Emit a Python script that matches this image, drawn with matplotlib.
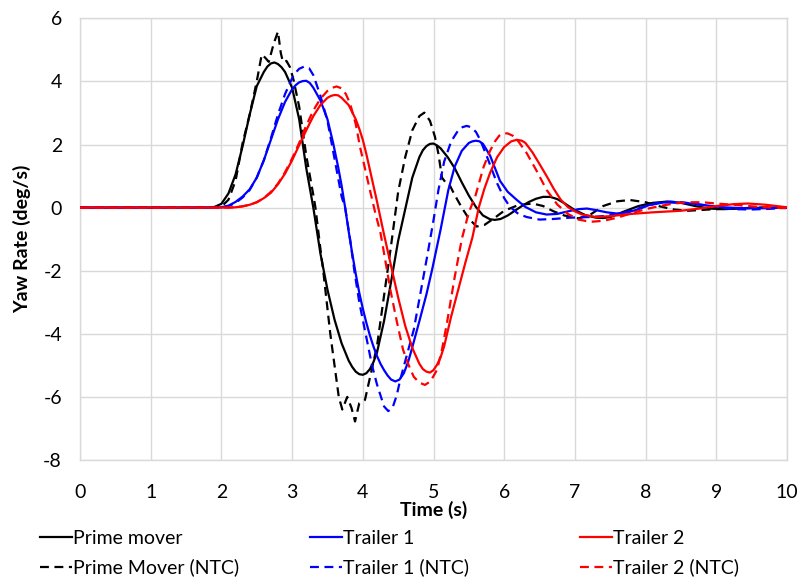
import matplotlib
matplotlib.use("Agg")
import matplotlib.pyplot as plt

plt.rcParams['font.family'] = ['Lato', 'DejaVu Sans']

# Yaw rate responses (time in s, yaw rate in deg/s)
pm_t = [0, 1.8, 1.9, 2.0, 2.1, 2.2, 2.3, 2.4, 2.5, 2.6, 2.65, 2.7, 2.75, 2.8, 2.85, 2.9, 3.0, 3.1,
        3.2, 3.3, 3.4, 3.5, 3.6, 3.7, 3.8, 3.85, 3.9, 3.95, 4.0, 4.05, 4.1, 4.15, 4.2, 4.3, 4.4,
        4.5, 4.6, 4.7, 4.8, 4.85, 4.9, 4.95, 5.0, 5.05, 5.1, 5.2, 5.3, 5.4, 5.5, 5.6, 5.7, 5.8,
        5.87, 5.95, 6.05, 6.15, 6.25, 6.35, 6.45, 6.55, 6.65, 6.75, 6.85, 7.0, 7.15, 7.3, 7.4,
        7.5, 7.7, 7.9, 8.1, 8.3, 8.5, 8.7, 8.9, 9.1, 9.4, 9.7, 10]
pm_y = [0, 0, 0.02, 0.12, 0.45, 1.05, 1.95, 2.95, 3.85, 4.3, 4.47, 4.57, 4.6, 4.55, 4.45, 4.3,
        3.8, 2.8, 1.25, 0.0, -1.45, -2.6, -3.55, -4.3, -4.85, -5.05, -5.2, -5.28, -5.3, -5.25,
        -5.12, -4.9, -4.6, -3.6, -2.35, -1.05, -0.05, 0.95, 1.6, 1.82, 1.95, 2.02, 2.03, 1.97,
        1.88, 1.6, 1.25, 0.8, 0.38, 0.02, -0.25, -0.37, -0.39, -0.36, -0.25, -0.1, 0.05, 0.18,
        0.28, 0.34, 0.34, 0.27, 0.14, -0.08, -0.24, -0.32, -0.33, -0.3, -0.12, 0.05, 0.15, 0.19,
        0.15, 0.05, -0.03, -0.05, -0.02, 0.0, 0.0]

pm_ntc_t = [0, 1.9, 2.0, 2.1, 2.2, 2.3, 2.4, 2.5, 2.57, 2.62, 2.67, 2.74, 2.8, 2.84, 2.87, 2.92,
            2.97, 3.02, 3.1, 3.2, 3.3, 3.33, 3.4, 3.44, 3.5, 3.54, 3.6, 3.66, 3.71, 3.78, 3.84,
            3.89, 3.95, 4.03, 4.1, 4.2, 4.3, 4.4, 4.5, 4.6, 4.7, 4.8, 4.87, 4.95, 5.02, 5.07,
            5.12, 5.17, 5.22, 5.3, 5.4, 5.5, 5.61, 5.72, 5.85, 6.0, 6.2, 6.4, 6.55, 6.7, 6.85,
            7.05, 7.2, 7.4, 7.6, 7.78, 8.0, 8.2, 8.4, 8.6, 8.9, 9.2, 9.6, 10]
pm_ntc_y = [0, 0, 0.03, 0.25, 0.85, 2.05, 2.95, 4.0, 4.85, 4.75, 4.62, 5.2, 5.58, 4.9, 4.62, 4.65,
            4.45, 4.05, 3.2, 1.65, 0.4, 0.0, -1.3, -2.0, -3.2, -4.0, -5.0, -6.0, -6.4, -6.0, -6.35,
            -6.78, -6.2, -6.1, -5.4, -4.4, -2.8, -1.2, 0.5, 1.6, 2.45, 2.9, 3.01, 2.75, 2.25, 1.7,
            0.95, 0.8, 0.75, 0.4, 0.0, -0.35, -0.6, -0.55, -0.35, -0.1, 0.08, 0.13, 0.05, -0.12,
            -0.25, -0.34, -0.25, 0.05, 0.2, 0.24, 0.17, 0.04, -0.06, -0.1, -0.06, -0.03, 0.0, 0.0]

t1_t = [0, 1.9, 2.0, 2.1, 2.2, 2.3, 2.4, 2.5, 2.6, 2.7, 2.8, 2.9, 3.0, 3.05, 3.1, 3.15, 3.2, 3.25,
        3.3, 3.4, 3.5, 3.58, 3.65, 3.7, 3.75, 3.8, 3.85, 3.9, 3.95, 4.0, 4.05, 4.1, 4.15, 4.2,
        4.25, 4.3, 4.35, 4.4, 4.46, 4.52, 4.58, 4.64, 4.69, 4.8, 4.9, 4.98, 5.1, 5.21, 5.3, 5.4,
        5.5, 5.55, 5.6, 5.65, 5.7, 5.8, 5.94, 6.05, 6.18, 6.3, 6.45, 6.6, 6.75, 6.9, 7.05, 7.17,
        7.3, 7.45, 7.6, 7.75, 7.9, 8.05, 8.25, 8.45, 8.7, 8.9, 9.1, 9.4, 9.7, 10]
t1_y = [0, 0, 0.01, 0.06, 0.18, 0.35, 0.58, 0.95, 1.5, 2.15, 2.8, 3.35, 3.75, 3.88, 3.97, 4.01,
        4.02, 3.95, 3.8, 3.4, 2.8, 2.05, 1.3, 0.7, 0.0, -0.75, -1.45, -2.1, -2.7, -3.2, -3.65,
        -4.05, -4.4, -4.7, -4.95, -5.15, -5.32, -5.45, -5.51, -5.45, -5.25, -4.9, -4.51, -3.6,
        -2.75, -1.97, -0.7, 0.56, 1.3, 1.8, 2.05, 2.1, 2.12, 2.1, 2.02, 1.65, 0.85, 0.5, 0.24,
        0.02, -0.15, -0.22, -0.2, -0.12, -0.05, -0.03, -0.08, -0.15, -0.19, -0.15, -0.05, 0.08,
        0.16, 0.16, 0.12, 0.06, 0.01, -0.02, -0.02, 0.0]

t1_ntc_t = [0, 1.9, 2.0, 2.1, 2.2, 2.3, 2.4, 2.5, 2.6, 2.7, 2.8, 2.9, 3.0, 3.05, 3.1, 3.17, 3.24,
            3.3, 3.4, 3.5, 3.6, 3.7, 3.75, 3.82, 3.88, 3.95, 4.04, 4.13, 4.2, 4.25, 4.3, 4.36,
            4.42, 4.48, 4.53, 4.62, 4.72, 4.8, 4.91, 5.0, 5.07, 5.15, 5.25, 5.35, 5.41, 5.47,
            5.53, 5.6, 5.66, 5.75, 5.9, 6.0, 6.08, 6.2, 6.32, 6.5, 6.7, 6.93, 7.2, 7.4, 7.6, 7.8,
            8.0, 8.2, 8.35, 8.55, 8.77, 9.0, 9.25, 9.5, 9.75, 10]
t1_ntc_y = [0, 0, 0.01, 0.05, 0.15, 0.32, 0.56, 0.95, 1.5, 2.2, 2.95, 3.6, 4.1, 4.28, 4.4, 4.47,
            4.42, 4.2, 3.55, 2.75, 1.55, 0.35, 0.0, -1.0, -2.0, -3.0, -4.0, -5.0, -5.6, -5.95,
            -6.3, -6.45, -6.35, -5.95, -5.45, -4.7, -3.88, -2.9, -1.55, -0.4, 0.56, 1.45, 2.1,
            2.45, 2.55, 2.59, 2.55, 2.4, 2.15, 1.65, 0.77, 0.3, 0.03, -0.2, -0.3, -0.38, -0.36,
            -0.32, -0.3, -0.27, -0.2, -0.1, 0.05, 0.16, 0.19, 0.16, 0.09, 0.02, -0.05, -0.06,
            -0.04, 0.0]

t2_t = [0, 2.1, 2.2, 2.3, 2.4, 2.5, 2.6, 2.7, 2.8, 2.9, 3.0, 3.1, 3.2, 3.3, 3.4, 3.5, 3.55, 3.6,
        3.65, 3.7, 3.8, 3.9, 3.95, 4.0, 4.05, 4.1, 4.15, 4.2, 4.3, 4.4, 4.5, 4.6, 4.7, 4.8, 4.85,
        4.9, 4.95, 5.0, 5.05, 5.1, 5.15, 5.25, 5.35, 5.45, 5.55, 5.64, 5.72, 5.8, 5.9, 6.0, 6.1,
        6.18, 6.25, 6.3, 6.4, 6.5, 6.6, 6.7, 6.8, 6.9, 7.0, 7.1, 7.3, 7.5, 7.8, 8.1, 8.5, 8.8,
        9.0, 9.25, 9.45, 9.7, 10]
t2_y = [0, 0, 0.01, 0.04, 0.09, 0.17, 0.3, 0.47, 0.74, 1.08, 1.5, 1.98, 2.45, 2.9, 3.25, 3.48,
        3.54, 3.57, 3.56, 3.48, 3.25, 2.8, 2.5, 2.15, 1.7, 1.2, 0.7, 0.2, -0.85, -1.85, -2.85,
        -3.75, -4.45, -4.95, -5.12, -5.2, -5.23, -5.15, -4.98, -4.75, -4.4, -3.45, -2.6, -1.75,
        -0.95, 0.0, 0.6, 1.1, 1.6, 1.92, 2.1, 2.15, 2.12, 2.05, 1.75, 1.38, 1.0, 0.6, 0.25, 0.02,
        -0.12, -0.22, -0.3, -0.27, -0.2, -0.15, -0.1, -0.02, 0.05, 0.11, 0.13, 0.09, 0.01]

t2_ntc_t = [0, 2.1, 2.2, 2.3, 2.4, 2.5, 2.6, 2.7, 2.8, 2.9, 3.0, 3.1, 3.2, 3.3, 3.4, 3.5, 3.57,
            3.63, 3.7, 3.76, 3.82, 3.9, 3.96, 4.03, 4.1, 4.18, 4.25, 4.32, 4.39, 4.48, 4.57, 4.65,
            4.72, 4.8, 4.88, 4.96, 5.05, 5.12, 5.19, 5.3, 5.4, 5.5, 5.59, 5.71, 5.8, 5.87, 5.93,
            5.99, 6.05, 6.12, 6.2, 6.32, 6.45, 6.6, 6.75, 6.9, 7.05, 7.22, 7.4, 7.6, 7.8, 8.0, 8.2,
            8.4, 8.6, 8.8, 9.0, 9.3, 9.6, 10]
t2_ntc_y = [0, 0, 0.01, 0.04, 0.09, 0.17, 0.3, 0.5, 0.76, 1.12, 1.56, 2.05, 2.6, 3.08, 3.45, 3.7,
            3.8, 3.84, 3.78, 3.6, 3.3, 2.65, 1.93, 1.25, 0.56, -0.2, -0.8, -1.7, -2.61, -3.6, -4.51,
            -5.0, -5.36, -5.55, -5.62, -5.5, -5.14, -4.5, -3.66, -2.2, -1.0, -0.15, 0.35, 1.3, 1.8,
            2.1, 2.28, 2.36, 2.35, 2.28, 2.1, 1.72, 1.2, 0.56, 0.1, -0.2, -0.38, -0.45, -0.42,
            -0.32, -0.18, -0.05, 0.05, 0.13, 0.17, 0.17, 0.13, 0.08, 0.02, -0.02]

x_ticks = [0, 1, 2, 3, 4, 5, 6, 7, 8, 9, 10]
y_ticks = [-8, -6, -4, -2, 0, 2, 4, 6]

series = [
    ("Prime mover", pm_t, pm_y, "#000000", "-"),
    ("Prime Mover (NTC)", pm_ntc_t, pm_ntc_y, "#000000", "--"),
    ("Trailer 1", t1_t, t1_y, "#0000FF", "-"),
    ("Trailer 1 (NTC)", t1_ntc_t, t1_ntc_y, "#0000FF", "--"),
    ("Trailer 2", t2_t, t2_y, "#FF0000", "-"),
    ("Trailer 2 (NTC)", t2_ntc_t, t2_ntc_y, "#FF0000", "--"),
]

fig = plt.figure(figsize=(8.01, 5.85), dpi=100)
ax = fig.add_axes([0.0999, 0.2137, 0.8826, 0.755])

lw = 1.6
handles = []
for label, t, y, color, ls in series:
    line, = ax.plot(t, y, color=color, lw=lw, solid_joinstyle='round',
                    dash_joinstyle='round', label=label, zorder=3)
    if ls == "--":
        line.set_dashes([4, 2.5])
    handles.append(line)

ax.set_xlim(0, 10)
ax.set_ylim(-8, 6)
ax.set_xticks(x_ticks)
ax.set_yticks(y_ticks)
ax.set_xticklabels([str(v) for v in x_ticks])
ax.set_yticklabels([str(v) for v in y_ticks])
ax.tick_params(axis='both', length=0, labelsize=14, colors='#000000')
ax.tick_params(axis='x', pad=17)
ax.tick_params(axis='y', pad=13)
ax.grid(True, color='#d9d9d9', lw=1.0, zorder=0)
ax.set_axisbelow(True)
for s in ax.spines.values():
    s.set_color('#d9d9d9')
    s.set_linewidth(1.0)

ax.set_xlabel("Time (s)", fontsize=14, fontweight='bold', labelpad=0)
ax.set_ylabel("Yaw Rate (deg/s)", fontsize=14, fontweight='bold', labelpad=9)

# legend: three columns, each with a solid and a dashed entry
col_x = [0.0499, 0.387, 0.724]
for i, cx in enumerate(col_x):
    hs = handles[2 * i:2 * i + 2]
    fig.legend(hs, [h.get_label() for h in hs],
               loc='upper left', bbox_to_anchor=(cx, 0.0937), frameon=False, fontsize=14,
               handlelength=1.65, handletextpad=0.05, labelspacing=0.58, borderaxespad=0,
               borderpad=0)

fig.savefig("out.png", dpi=100)
